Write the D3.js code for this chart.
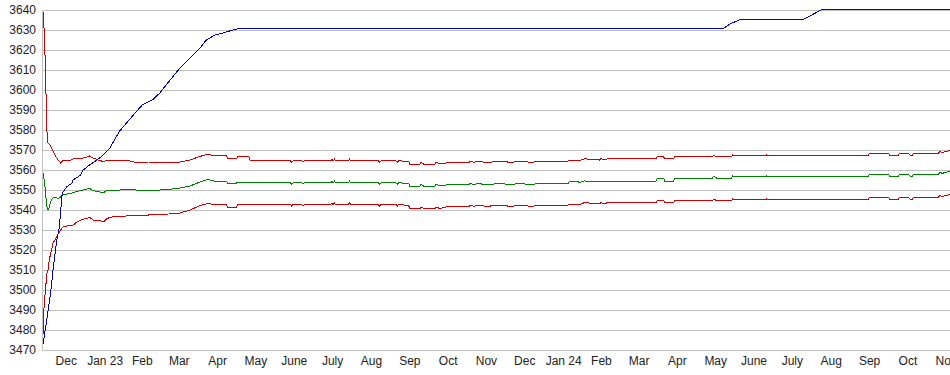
<!DOCTYPE html>
<html>
<head>
<meta charset="utf-8">
<script src="https://cdn.jsdelivr.net/npm/d3@7"></script>
<style>
    body { margin: 0; background: #fff; }
    svg text { font-family: "Liberation Sans", Arial, sans-serif; font-size: 12px; fill: #222; }
</style>
</head>
<body>
<svg id="drawing_region"></svg>
<script>
// value ticks and month labels
const yTicks = [3470, 3480, 3490, 3500, 3510, 3520, 3530, 3540, 3550, 3560,
                3570, 3580, 3590, 3600, 3610, 3620, 3630, 3640];
const monthLabels = ["Dec", "Jan 23", "Feb", "Mar", "Apr", "May", "June", "July", "Aug", "Sep", "Oct", "Nov",
                     "Dec", "Jan 24", "Feb", "Mar", "Apr", "May", "June", "July", "Aug", "Sep", "Oct", "Nov"];

// dates shared by the band (upper red, green, lower red)
const bandDates = [
    "2022-11-28","2022-11-29","2022-11-30","2022-12-01","2022-12-02","2022-12-03","2022-12-04","2022-12-05","2022-12-06","2022-12-07","2022-12-08","2022-12-10","2022-12-12","2022-12-14",
    "2022-12-17","2022-12-20","2022-12-22","2022-12-25","2022-12-29","2023-01-02","2023-01-04","2023-01-07","2023-01-11","2023-01-15","2023-01-18","2023-01-23","2023-02-02","2023-02-10",
    "2023-02-20","2023-03-01","2023-03-08","2023-03-17","2023-03-25","2023-04-02","2023-04-08","2023-04-14","2023-04-23","2023-04-24","2023-05-01","2023-05-02","2023-05-11",
    "2023-05-12","2023-06-13","2023-06-14","2023-06-15","2023-06-22","2023-06-23","2023-06-24","2023-07-15","2023-07-16","2023-07-17","2023-07-18","2023-07-19","2023-07-29","2023-07-30","2023-07-31","2023-08-22","2023-08-23","2023-08-24","2023-09-05","2023-09-06","2023-09-07",
    "2023-09-15","2023-09-16","2023-09-24","2023-09-25","2023-09-27","2023-10-06","2023-10-07","2023-10-10","2023-10-16","2023-11-02",
    "2023-11-03","2023-11-06","2023-11-09","2023-11-16","2023-11-26","2023-12-06","2023-12-12","2023-12-22","2023-12-28","2024-01-20","2024-01-21","2024-01-28","2024-01-29",
    "2024-02-02","2024-02-14","2024-02-15","2024-02-19","2024-02-20","2024-03-30","2024-03-31","2024-04-05","2024-04-06","2024-04-13","2024-04-14","2024-05-14","2024-05-15","2024-05-17","2024-05-29","2024-05-30","2024-06-10","2024-06-12","2024-06-24","2024-06-26","2024-07-04","2024-07-06","2024-09-15","2024-09-16","2024-10-01","2024-10-02","2024-10-09","2024-10-10","2024-10-17","2024-10-18","2024-10-20","2024-10-21","2024-11-10","2024-11-11","2024-11-13","2024-11-15","2024-11-19"
];
const upperBand = [
    3639,3629,3610,3580,3573.5,3573,3572,3570.5,3569.5,3568,3567,3565,3563.5,3564.7,
    3565,3565,3565.5,3565.8,3565.8,3566.5,3567,3566,3565,3564.2,3565,3564.7,3565,3563.7,
    3564,3564,3563.5,3564,3565,3566.8,3567.8,3567.2,3567.2,3565.6,3565.6,3566.6,3566.6,
    3564.6,3564.6,3563.8,3564.6,3564.6,3564,3564.6,3564.6,3565.4,3564.6,3565.4,3564.6,3564.6,3565.4,3564.6,3564.6,3563.8,3564.6,3564.6,3563.8,3564.6,
    3564.3,3563,3563,3563.8,3563,3563,3563.8,3563,3563.6,3563.6,
    3564.4,3563.8,3564.4,3563.7,3564.4,3563.8,3564.4,3563.8,3564.4,3564.4,3565,3565,3564.6,
    3565.6,3565,3565.6,3565,3565.6,3565.6,3566.6,3566.6,3565.6,3565.6,3566.6,3566.6,3567.5,3566.6,3566.6,3567.5,3567,3567.5,3567,3567.5,3567,3567.5,3567.5,3568.4,3568.4,3567.5,3567.5,3568.4,3568.4,3567.5,3567.5,3568.5,3568.5,3569.3,3568.6,3569.3,3569.6
];
const midLine = [
    3558.5,3555,3549,3542,3540,3541.5,3544,3545.5,3546,3546.5,3546.5,3545.8,3546.5,3547.5,
    3548,3548.3,3548.7,3549.2,3549.8,3550.5,3550.8,3549.7,3549.2,3548.7,3549.7,3549.7,3550.3,3550,
    3550,3550,3550.3,3551,3552,3554,3555.3,3554.3,3554.3,3553.5,3553.5,3554,3554,
    3553.6,3553.6,3552.8,3553.6,3553.6,3553,3553.6,3553.6,3554.4,3553.6,3554.4,3553.6,3553.6,3554.4,3553.6,3553.6,3552.8,3553.6,3553.6,3552.8,3553.6,
    3553.3,3552,3552,3552.8,3552,3552,3552.8,3552,3552.6,3552.6,
    3553.3,3552.7,3553.3,3552.6,3553.3,3552.7,3553.3,3552.7,3553.3,3553.3,3554.2,3554.2,3553.7,
    3554.5,3554,3554.5,3554,3554.5,3554.5,3556,3556,3554.5,3554.5,3556,3556,3557,3556,3556,3557,3556.5,3557,3556.5,3557,3556.5,3557,3557,3558,3558,3557,3557,3558,3558,3557,3557,3558,3558,3558.9,3558.2,3558.9,3559.1
];
const lowerBand = [
    3477.5,3494,3500,3508,3510,3515,3518,3520.5,3523.5,3524.5,3525.5,3528,3530,3531.5,
    3532,3532.3,3532.5,3534,3535.3,3535.8,3536.3,3535,3535,3534,3535.8,3536.7,3537,3537.5,
    3537.5,3537.8,3538,3538.5,3540,3542.2,3543.2,3542.7,3542.7,3541.5,3541.5,3542.7,3542.7,
    3542.7,3542.7,3541.9,3542.7,3542.7,3542,3542.7,3542.7,3543.5,3542.7,3543.5,3542.7,3542.7,3543.5,3542.7,3542.7,3541.9,3542.7,3542.7,3541.9,3542.7,
    3542.3,3540.7,3540.7,3541.5,3540.7,3540.7,3541.5,3540.7,3541.7,3541.7,
    3542.4,3541.8,3542.4,3541.8,3542.4,3541.8,3542.4,3541.8,3542.4,3542.4,3543,3543,3542.7,
    3543.7,3543,3543.7,3543,3543.7,3543.7,3544.7,3544.7,3543.7,3543.7,3544.7,3544.7,3545.5,3544.7,3544.7,3545.5,3545,3545.5,3545,3545.5,3545,3545.5,3545.5,3546.5,3546.5,3545.5,3545.5,3546.5,3546.5,3545.5,3545.5,3546.5,3546.5,3547.3,3546.6,3547.3,3547.6
];

// the blue running line
const trendDates = [
    "2022-11-28","2022-12-01","2022-12-04","2022-12-06","2022-12-08","2022-12-09","2022-12-11","2022-12-12","2022-12-13","2022-12-14",
    "2022-12-17","2022-12-21","2022-12-22","2022-12-28","2022-12-30","2023-01-04","2023-01-10","2023-01-15","2023-01-20","2023-01-28",
    "2023-02-10","2023-02-15","2023-02-23","2023-03-01","2023-03-06","2023-03-17","2023-03-25","2023-04-02","2023-04-07","2023-04-14",
    "2023-04-23","2023-04-28","2023-05-05","2024-05-23","2024-05-28","2024-06-05","2024-07-25","2024-08-01","2024-08-09","2024-11-19"
];
const trendValues = [
    3473,3485,3498.5,3510,3520,3525,3531.5,3538.5,3547,3549,
    3551.7,3553.3,3555,3557.5,3560,3562.5,3565,3567.5,3570.8,3579.5,
    3589,3592.5,3595,3598.5,3602.5,3611,3616,3621,3625,3627.5,
    3629,3630,3631,3631,3633,3635.3,3635.3,3637.5,3640.3,3640.3
];

const parseDate = d3.timeParse("%Y-%m-%d");

class BandChart {

    constructor( config ) {
        this.config = {
            parent: config.parent,
            width: config.width || 950,
            height: config.height || 375,
            margin: config.margin || {top:10, right:0, bottom:25, left:43}
        }
        this.init();
    }

    init() {
        let self = this;

        self.svg = d3.select( self.config.parent )
            .attr('width', self.config.width)
            .attr('height', self.config.height);

        self.xscale = d3.scaleTime()
            .domain([parseDate("2022-11-28"), parseDate("2024-11-19")])
            .range([self.config.margin.left, self.config.width - self.config.margin.right]);

        self.yscale = d3.scaleLinear()
            .domain([3470, 3640])
            .range([self.config.height - self.config.margin.bottom, self.config.margin.top]);

        self.line = d3.line()
            .x( d => self.xscale(d.date) )
            .y( d => self.yscale(d.value) );
    }

    update() {
        let self = this;
        self.band = [
            { color: '#cc0000', values: upperBand },
            { color: '#008000', values: midLine },
            { color: '#cc0000', values: lowerBand }
        ].map( s => ({ color: s.color, points: bandDates.map( (d, i) => ({ date: parseDate(d), value: s.values[i] }) ) }) );
        self.trend = trendDates.map( (d, i) => ({ date: parseDate(d), value: trendValues[i] }) );
        self.render();
    }

    render() {
        let self = this;
        const left = self.config.margin.left;
        const right = self.config.width - self.config.margin.right;
        const bottom = self.yscale(3470);

        // horizontal grid
        self.svg.append('g')
            .selectAll('line')
            .data(yTicks)
            .join('line')
            .attr('x1', left)
            .attr('x2', right)
            .attr('y1', d => Math.round(self.yscale(d)) + 0.5)
            .attr('y2', d => Math.round(self.yscale(d)) + 0.5)
            .attr('stroke', '#c0c0c0')
            .attr('shape-rendering', 'crispEdges');

        // left axis line
        self.svg.append('line')
            .attr('x1', left - 0.5).attr('x2', left - 0.5)
            .attr('y1', self.yscale(3640)).attr('y2', bottom + 1)
            .attr('stroke', '#c0c0c0')
            .attr('shape-rendering', 'crispEdges');

        // y labels
        self.svg.append('g')
            .selectAll('text')
            .data(yTicks)
            .join('text')
            .attr('x', 36)
            .attr('y', d => self.yscale(d))
            .attr('dy', '0.32em')
            .attr('text-anchor', 'end')
            .text(d => d);

        // month labels, centred in each month
        const months = d3.timeMonth.range(new Date(2022, 11, 1), new Date(2024, 11, 1));
        self.svg.append('g')
            .selectAll('text')
            .data(months)
            .join('text')
            .attr('x', d => (self.xscale(d) + self.xscale(d3.timeMonth.offset(d, 1))) / 2)
            .attr('y', 365)
            .attr('text-anchor', 'middle')
            .text((d, i) => monthLabels[i]);

        // series
        self.svg.append('g')
            .selectAll('path')
            .data(self.band)
            .join('path')
            .attr('d', d => self.line(d.points))
            .attr('fill', 'none')
            .attr('stroke', d => d.color)
            .attr('stroke-width', 1)
            .attr('shape-rendering', 'crispEdges');

        self.svg.append('path')
            .attr('d', self.line(self.trend))
            .attr('fill', 'none')
            .attr('stroke', '#0000c0')
            .attr('stroke-width', 1)
            .attr('shape-rendering', 'crispEdges');
    }
}

const chart = new BandChart({ parent: '#drawing_region', width: 950, height: 375 });
chart.update();
</script>
</body>
</html>
